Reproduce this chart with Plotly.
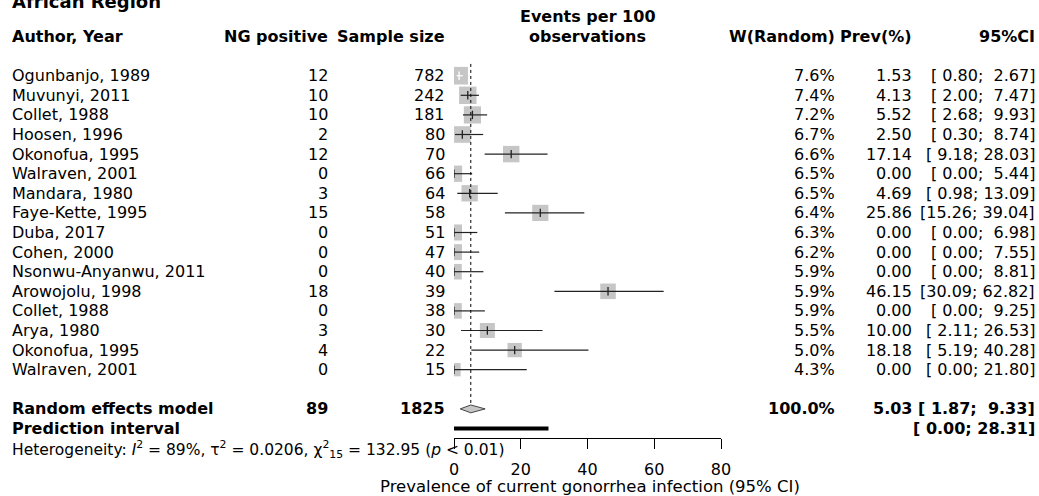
import plotly.graph_objects as go
import math

# ---------------- data ----------------
authors = ["Ogunbanjo, 1989", "Muvunyi, 2011", "Collet, 1988", "Hoosen, 1996",
           "Okonofua, 1995", "Walraven, 2001", "Mandara, 1980", "Faye-Kette, 1995",
           "Duba, 2017", "Cohen, 2000", "Nsonwu-Anyanwu, 2011", "Arowojolu, 1998",
           "Collet, 1988", "Arya, 1980", "Okonofua, 1995", "Walraven, 2001"]
ng_positive = [12, 10, 10, 2, 12, 0, 3, 15, 0, 0, 0, 18, 0, 3, 4, 0]
sample_size = [782, 242, 181, 80, 70, 66, 64, 58, 51, 47, 40, 39, 38, 30, 22, 15]
weights = [7.6, 7.4, 7.2, 6.7, 6.6, 6.5, 6.5, 6.4, 6.3, 6.2, 5.9, 5.9, 5.9, 5.5, 5.0, 4.3]
prev = [1.53, 4.13, 5.52, 2.50, 17.14, 0.00, 4.69, 25.86, 0.00, 0.00, 0.00, 46.15, 0.00, 10.00, 18.18, 0.00]
ci_low = [0.80, 2.00, 2.68, 0.30, 9.18, 0.00, 0.98, 15.26, 0.00, 0.00, 0.00, 30.09, 0.00, 2.11, 5.19, 0.00]
ci_high = [2.67, 7.47, 9.93, 8.74, 28.03, 5.44, 13.09, 39.04, 6.98, 7.55, 8.81, 62.82, 9.25, 26.53, 40.28, 21.80]

total_events = 89
total_n = 1825
pooled_prev = 5.03
pooled_low = 1.87
pooled_high = 9.33
pi_low = 0.00
pi_high = 28.31

x_ticks = [0, 20, 40, 60, 80]

# ---------------- layout helpers ----------------
W, H = 1039, 496
FONT = "DejaVu Sans"
ROW0_PX = 75.7
ROW_PX = 19.6
X0_PX, X80_PX = 454, 721


def px(x_ref):
    return x_ref / W


def fmt_num(v, w):
    s = f"{v:.2f}"
    return "\u00a0" * max(0, w - len(s)) + s


def fmt_ci(lo, hi):
    return "[" + fmt_num(lo, 5) + ";\u00a0" + fmt_num(hi, 5) + "]"


n = len(authors)
rows = list(range(n))
row_re = n + 1
row_pi = n + 2
row_het = n + 3

y_top = -ROW0_PX / ROW_PX
y_bot = (H - ROW0_PX) / ROW_PX

fig = go.Figure()

scale = (X80_PX - X0_PX) / 80
for i in rows:
    size = 6.4 * math.sqrt(weights[i])
    half_w = (size / 2) / scale
    inside = (ci_low[i] >= prev[i] - half_w) and (ci_high[i] <= prev[i] + half_w)
    col = "white" if inside else "#222222"
    fig.add_trace(go.Scatter(x=[prev[i]], y=[i], mode="markers",
                             marker=dict(symbol="square", size=size, color="#C6C6C6",
                                         line=dict(width=0)),
                             hoverinfo="skip", showlegend=False))
    fig.add_trace(go.Scatter(x=[ci_low[i], ci_high[i]], y=[i, i], mode="lines",
                             line=dict(color=col, width=1.2),
                             hoverinfo="skip", showlegend=False))
    fig.add_trace(go.Scatter(x=[prev[i]], y=[i], mode="markers",
                             marker=dict(symbol="line-ns", size=6,
                                         line=dict(color=col, width=1.3)),
                             hoverinfo="skip", showlegend=False))

# dotted reference line at pooled estimate
fig.add_trace(go.Scatter(x=[pooled_prev, pooled_prev], y=[-0.6, row_re - 0.2], mode="lines",
                         line=dict(color="black", width=1, dash="dot"),
                         hoverinfo="skip", showlegend=False))

# diamond
dh = 0.2
fig.add_trace(go.Scatter(x=[pooled_low, pooled_prev, pooled_high, pooled_prev, pooled_low],
                         y=[row_re, row_re - dh, row_re, row_re + dh, row_re],
                         mode="lines", fill="toself", fillcolor="#C6C6C6",
                         line=dict(color="#444444", width=1),
                         hoverinfo="skip", showlegend=False))

# prediction interval bar
fig.add_trace(go.Scatter(x=[pi_low, pi_high], y=[row_pi, row_pi], mode="lines",
                         line=dict(color="black", width=4),
                         hoverinfo="skip", showlegend=False))

# ---------------- text columns ----------------
ann = []


def add(text, x_ref, y, anchor, size=16, bold=False):
    t = f"<b>{text}</b>" if bold else text
    ann.append(dict(text=t, x=px(x_ref), y=y, xref="paper", yref="y",
                    xanchor=anchor, yanchor="middle", showarrow=False,
                    font=dict(family=FONT, size=size, color="black")))


COL_AUTH = 10
COL_NG = 330
COL_N = 447
COL_W = 837
COL_PREV = 914
COL_CI = 1037
COL_MID = (X0_PX + X80_PX) / 2

add("African Region", COL_AUTH, -3.8, "left", size=18, bold=True)
add("Author, Year", COL_AUTH, -2, "left", bold=True)
add("NG positive", COL_NG, -2, "right", bold=True)
add("Sample size", COL_N, -2, "right", bold=True)
add("Events per 100", COL_MID, -3, "center", bold=True)
add("observations", COL_MID, -2, "center", bold=True)
add("W(Random)", COL_W, -2, "right", bold=True)
add("Prev(%)", COL_PREV, -2, "right", bold=True)
add("95%CI", COL_CI, -2, "right", bold=True)

for i in rows:
    add(authors[i], COL_AUTH, i, "left")
    add(str(ng_positive[i]), COL_NG, i, "right")
    add(str(sample_size[i]), COL_N, i, "right")
    add(f"{weights[i]:.1f}%", COL_W, i, "right")
    add(f"{prev[i]:.2f}", COL_PREV, i, "right")
    add(fmt_ci(ci_low[i], ci_high[i]), COL_CI, i, "right")

add("Random effects model", COL_AUTH, row_re, "left", bold=True)
add(str(total_events), COL_NG, row_re, "right", bold=True)
add(str(total_n), COL_N, row_re, "right", bold=True)
add("100.0%", COL_W, row_re, "right", bold=True)
add(f"{pooled_prev:.2f}", COL_PREV, row_re, "right", bold=True)
add(fmt_ci(pooled_low, pooled_high), COL_CI, row_re, "right", bold=True)
add("Prediction interval", COL_AUTH, row_pi, "left", bold=True)
add(fmt_ci(pi_low, pi_high), COL_CI, row_pi, "right", bold=True)

add("Heterogeneity: <i>I</i><sup>2</sup> = 89%, τ<sup>2</sup> = 0.0206, "
    "χ<sup>2</sup><sub>15</sub> = 132.95 (<i>p</i> < 0.01)",
    COL_AUTH, row_het + 0.08, "left", size=15.5)

add("Prevalence of current gonorrhea infection (95% CI)", COL_MID + 2,
    (486 - ROW0_PX) / ROW_PX, "center", size=16.5)

axis_px = 438
fig.update_layout(
    width=W, height=H,
    margin=dict(l=0, r=0, t=0, b=0, autoexpand=False),
    paper_bgcolor="white", plot_bgcolor="white",
    showlegend=False,
    annotations=ann,
    xaxis=dict(domain=[X0_PX / W, X80_PX / W], range=[0, 80],
               anchor="free", position=(H - axis_px) / H,
               showgrid=False, zeroline=False,
               showline=True, linecolor="black", linewidth=1,
               ticks="outside", ticklen=10, tickcolor="black", tickwidth=1,
               tickvals=x_ticks, ticktext=[str(t) for t in x_ticks],
               ticklabelstandoff=7,
               tickfont=dict(family=FONT, size=16, color="black")),
    yaxis=dict(domain=[0, 1], range=[y_bot, y_top], visible=False,
               showgrid=False, zeroline=False),
)

fig.write_html("out.html", config={"displayModeBar": False},
               post_script="document.body.style.margin='0px';"
                           "document.body.style.overflow='hidden';")
